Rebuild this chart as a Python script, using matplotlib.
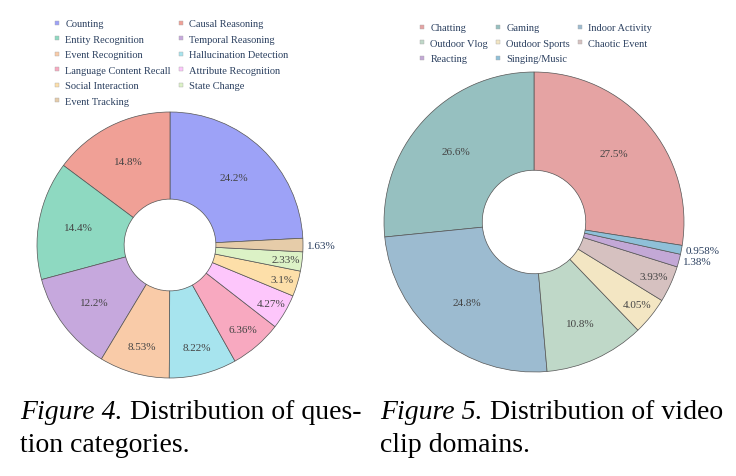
import matplotlib
matplotlib.use("Agg")
import matplotlib.pyplot as plt
from matplotlib.lines import Line2D
import numpy as np

W, H = 736, 477
SERIF = "Liberation Serif"
TXT_IN = "#444444"
TXT_OUT = "#2a3f5f"
EDGE = "#555555"

# question categories (left)
q_labels = ["Counting", "Causal Reasoning", "Entity Recognition", "Temporal Reasoning",
            "Event Recognition", "Hallucination Detection", "Language Content Recall",
            "Attribute Recognition", "Social Interaction", "State Change", "Event Tracking"]
q_values = [24.2, 14.8, 14.4, 12.2, 8.53, 8.22, 6.36, 4.27, 3.1, 2.33, 1.63]
q_pct = ["24.2%", "14.8%", "14.4%", "12.2%", "8.53%", "8.22%", "6.36%", "4.27%", "3.1%", "2.33%", "1.63%"]
q_colors = ["#9da2f7", "#f0a096", "#8ed9c1", "#c6a8dd", "#f9cba8", "#a7e4ee",
            "#f8a9c0", "#fdc6fb", "#fddfa9", "#dcf2c6", "#e6cca9"]

# video clip domains (right)
v_labels = ["Chatting", "Gaming", "Indoor Activity", "Outdoor Vlog", "Outdoor Sports",
            "Chaotic Event", "Reacting", "Singing/Music"]
v_values = [27.5, 26.6, 24.8, 10.8, 4.05, 3.93, 1.38, 0.958]
v_pct = ["27.5%", "26.6%", "24.8%", "10.8%", "4.05%", "3.93%", "1.38%", "0.958%"]
v_colors = ["#e5a3a3", "#96c0c0", "#9cbbd0", "#bfd8c8", "#f3e6c3", "#d6c1c0", "#c3a8d6", "#8fc0d8"]

HOLE = 0.345


def donut(fig, cx, cy, r, values, colors, pcts):
    ax = fig.add_axes([(cx - r) / W, (H - cy - r) / H, 2 * r / W, 2 * r / H])
    total = sum(values)
    start = 90 - 360 * values[0] / total
    wedges, _ = ax.pie(values, colors=colors, startangle=start, counterclock=True,
                       radius=1, wedgeprops=dict(width=1 - HOLE, edgecolor=EDGE, linewidth=0.5))
    ax.set_xlim(-1, 1)
    ax.set_ylim(-1, 1)
    ax.axis("off")
    for w, v, p in zip(wedges, values, pcts):
        f = v / total
        ang = np.deg2rad((w.theta1 + w.theta2) / 2)
        if f >= 0.02:
            rr = np.clip(0.98 - 2.2 * f, 0.7, 0.88)
            ax.text(rr * np.cos(ang), rr * np.sin(ang), p, ha="center", va="center",
                    fontsize=8, family=SERIF, color=TXT_IN)
        else:
            ax.text(1.03 * np.cos(ang), 1.03 * np.sin(ang), p, ha="left", va="center",
                    fontsize=8, family=SERIF, color=TXT_OUT, clip_on=False)
    return ax


def legend(fig, labels, colors, ncol, x, y, colsp):
    handles = [Line2D([], [], marker="s", linestyle="none", markersize=3.2,
                      markerfacecolor=c, markeredgecolor="#aaaaaa", markeredgewidth=0.3)
               for c in colors]
    nrow = int(np.ceil(len(labels) / ncol))
    order = []
    for c in range(ncol):
        for rw in range(nrow):
            i = rw * ncol + c
            if i < len(labels):
                order.append(i)
    fig.legend([handles[i] for i in order], [labels[i] for i in order], ncol=ncol,
               loc="upper left", bbox_to_anchor=(x / W, 1 - y / H), frameon=False,
               prop={"family": SERIF, "size": 7.5}, labelcolor=TXT_OUT,
               handlelength=0.6, handletextpad=0.5, columnspacing=colsp,
               labelspacing=0.6, borderpad=0, borderaxespad=0)


fig = plt.figure(figsize=(W / 100, H / 100), dpi=100)

donut(fig, 170, 246, 133, q_values, q_colors, q_pct)
donut(fig, 534, 223, 150, v_values, v_colors, v_pct)

legend(fig, q_labels, q_colors, 2, 54, 20, 0.65)
legend(fig, v_labels, v_colors, 3, 419, 24, 0.65)

# captions
fig.canvas.draw()
renderer = fig.canvas.get_renderer()
CAP = 20


def caption(x, y, head, rest):
    t = fig.text(x / W, 1 - y / H, head, family=SERIF, style="italic", fontsize=CAP,
                 color="black", va="baseline")
    bb = t.get_window_extent(renderer)
    fig.text((bb.x1 + 8) / W, 1 - y / H, rest, family=SERIF, fontsize=CAP,
             color="black", va="baseline")


caption(20, 419, "Figure 4.", "Distribution of ques-")
fig.text(20 / W, 1 - 452 / H, "tion categories.", family=SERIF, fontsize=CAP, va="baseline")
caption(380, 419, "Figure 5.", "Distribution of video")
fig.text(380 / W, 1 - 452 / H, "clip domains.", family=SERIF, fontsize=CAP, va="baseline")

fig.savefig("out.png", dpi=100)
